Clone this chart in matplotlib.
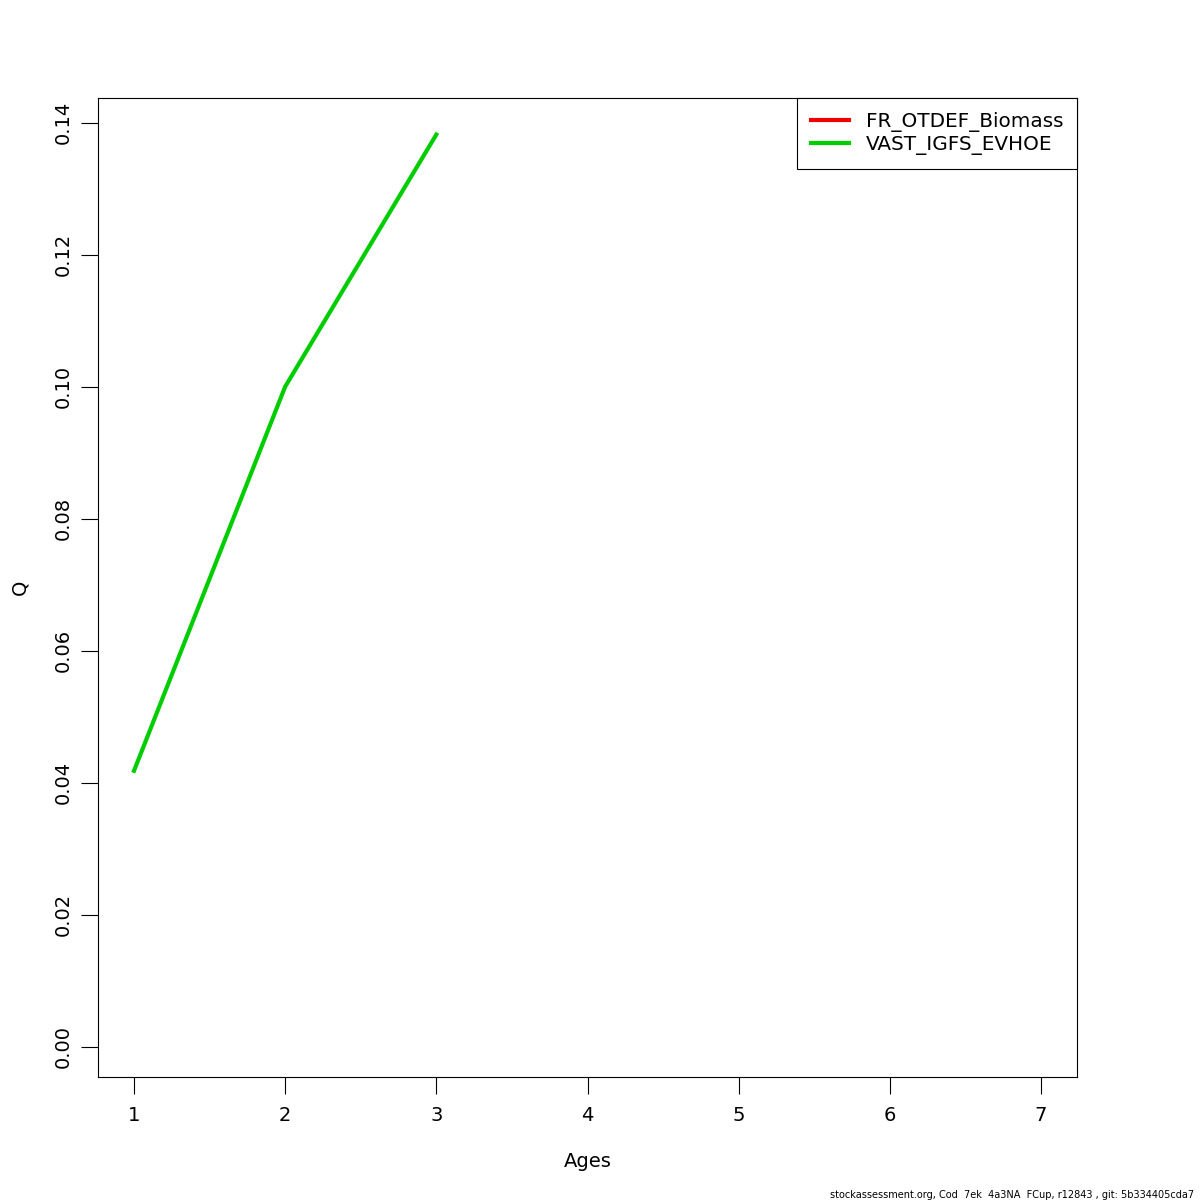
import matplotlib
matplotlib.use("Agg")
import matplotlib.pyplot as plt
import numpy as np

# data
ages = [1, 2, 3, 4, 5, 6, 7]
q_fr_otdef = [np.nan] * 7
q_vast_igfs = [0.0418, 0.1000, 0.1382, np.nan, np.nan, np.nan, np.nan]
series_names = ["FR_OTDEF_Biomass", "VAST_IGFS_EVHOE"]
series_colors = ["#EE0000", "#00CD00"]
y_ticks = [0.00, 0.02, 0.04, 0.06, 0.08, 0.10, 0.12, 0.14]

fig = plt.figure(figsize=(12, 12), dpi=100)
ax = fig.add_axes([98 / 1200, 123 / 1200, 979 / 1200, 979 / 1200])

for vals, name, col in zip([q_fr_otdef, q_vast_igfs], series_names, series_colors):
    ax.plot(ages, vals, color=col, linewidth=3, label=name)

ax.set_xlim(0.762, 7.238)
ax.set_ylim(-0.00459, 0.14374)
ax.set_xticks(ages)
ax.set_yticks(y_ticks)
ax.set_yticklabels([f"{v:.2f}" for v in y_ticks], rotation=90, va="center")
ax.tick_params(axis="both", labelsize=14, length=12, width=0.8, pad=6)
ax.tick_params(axis="x", pad=9)
for s in ax.spines.values():
    s.set_linewidth(0.8)

ax.set_xlabel("Ages", fontsize=14, labelpad=19)
ax.set_ylabel("Q", fontsize=14, labelpad=18)

leg = ax.legend(loc="upper right", fontsize=14.4, fancybox=False, framealpha=1,
                edgecolor="black", borderaxespad=0, handlelength=1.9,
                labelspacing=0.15, borderpad=0.7, handletextpad=0.85)
leg.get_frame().set_linewidth(0.8)

fig.text(0.995, 0.0, "stockassessment.org, Cod  7ek  4a3NA  FCup, r12843 , git: 5b334405cda7",
         ha="right", va="bottom", fontsize=7)

fig.savefig("out.png", dpi=100)
